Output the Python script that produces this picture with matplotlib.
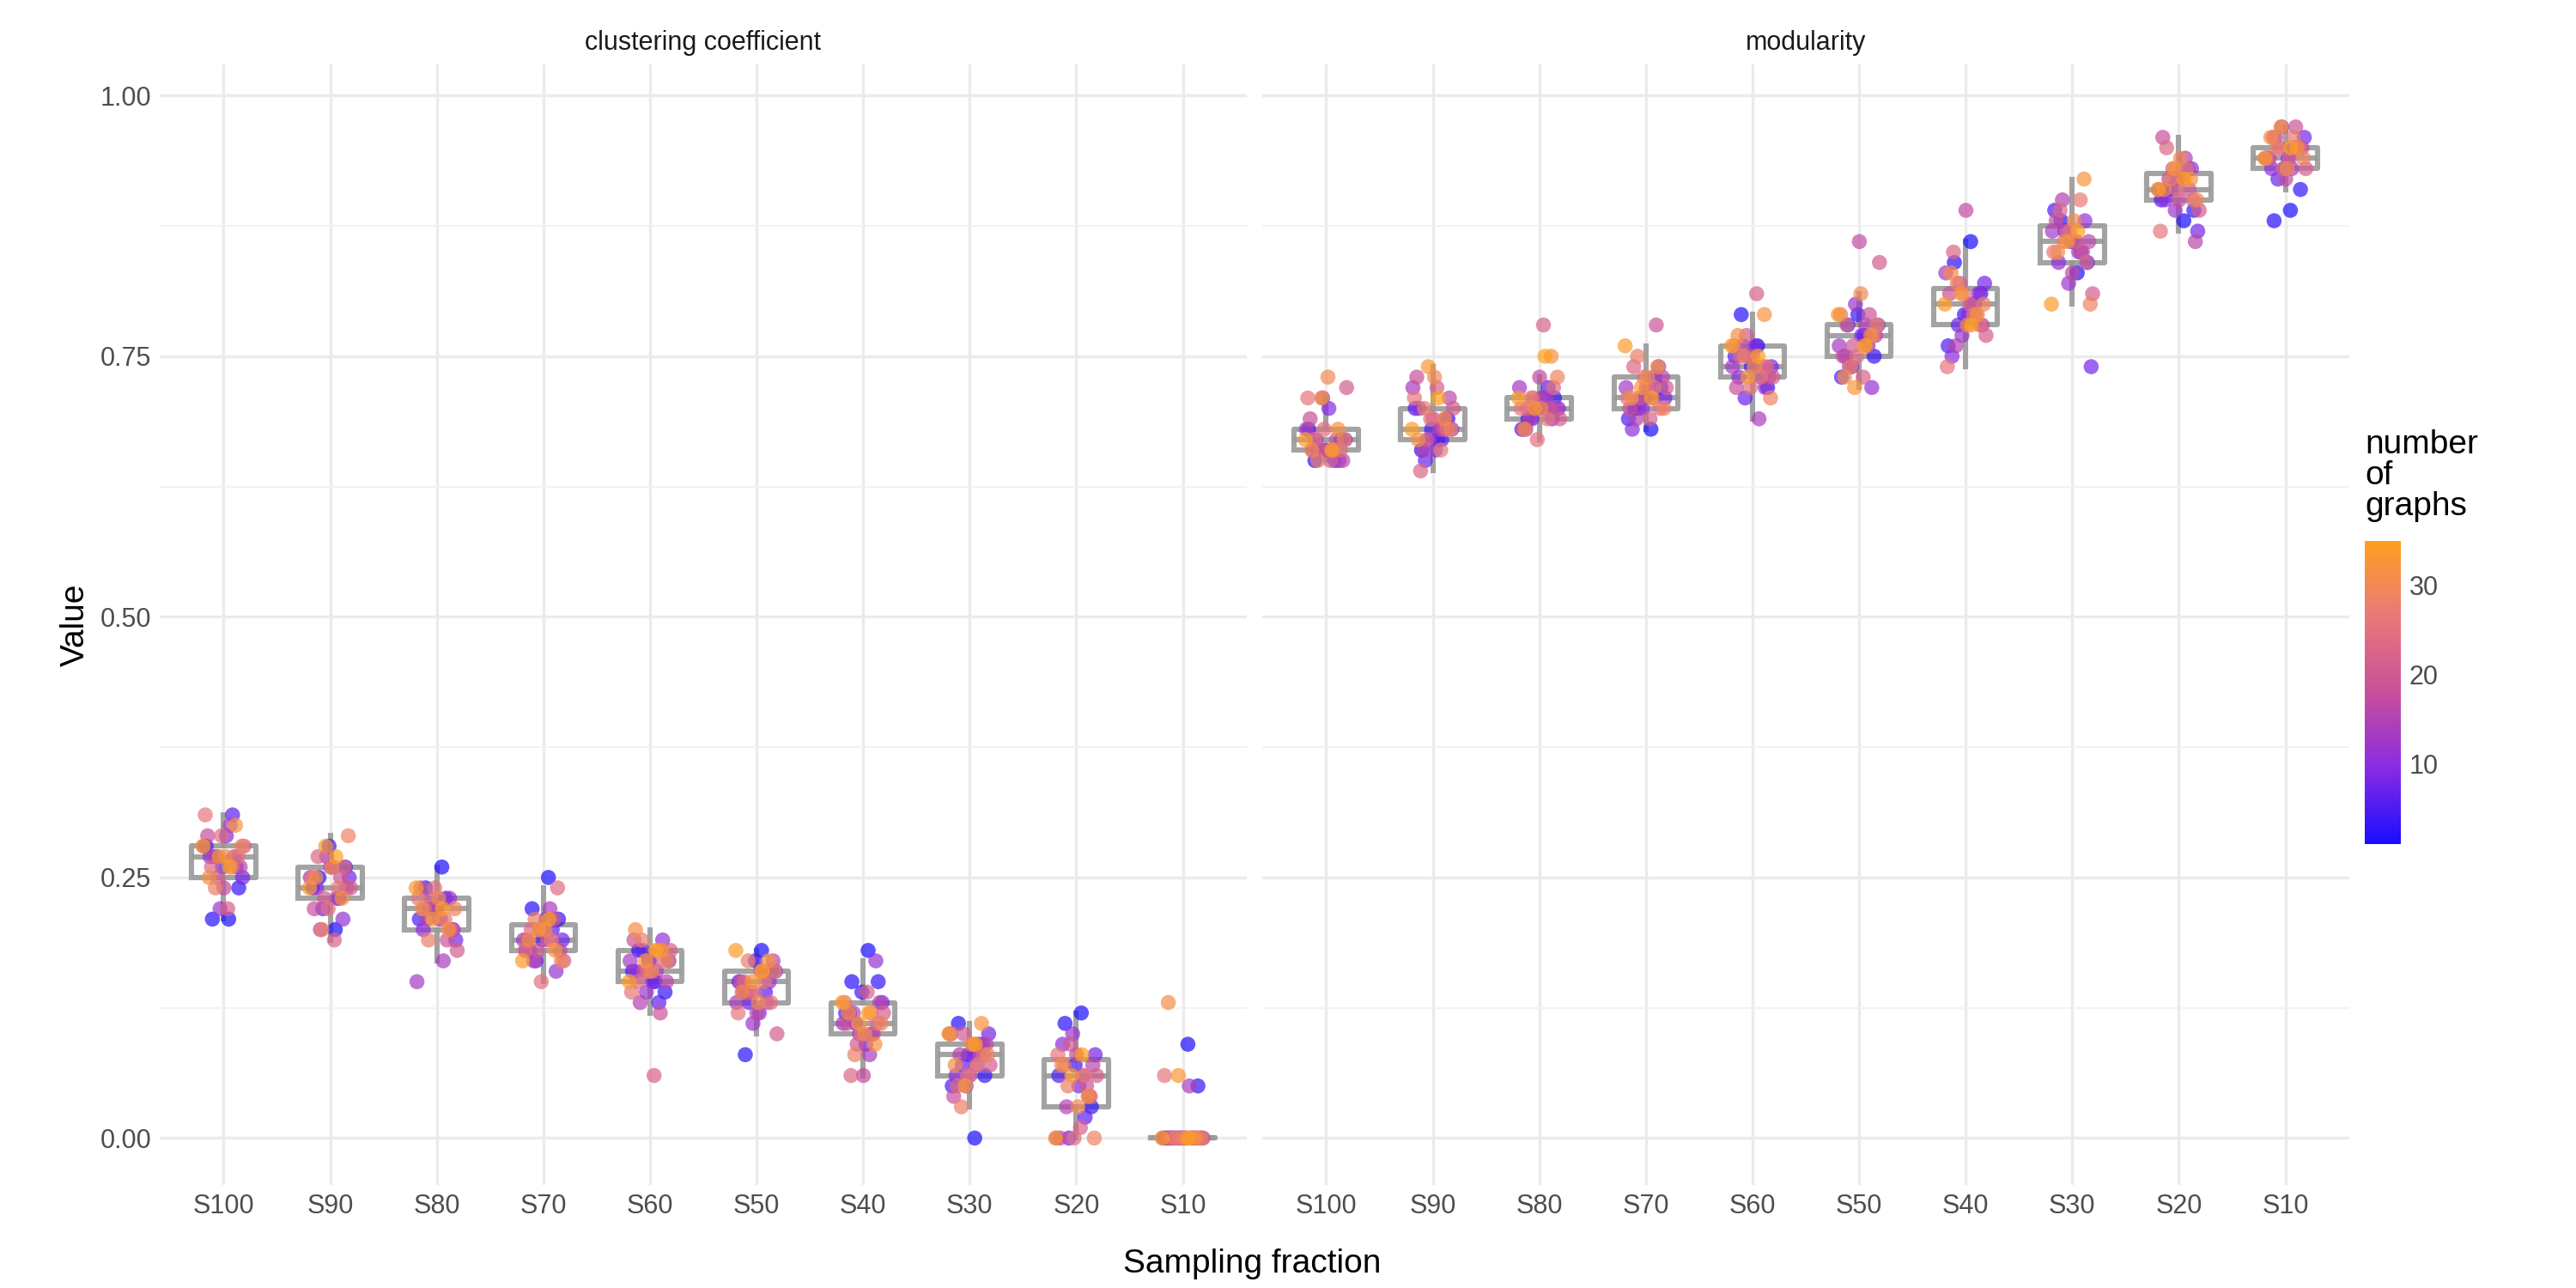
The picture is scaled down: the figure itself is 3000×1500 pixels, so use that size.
import numpy as np
import matplotlib.pyplot as plt
from matplotlib.colors import LinearSegmentedColormap, Normalize

plt.rcParams['font.family'] = ['Liberation Sans', 'DejaVu Sans']

fractions = ["S100","S90","S80","S70","S60","S50","S40","S30","S20","S10"]
graph_ids = list(range(1, 36))

cc_S100 = [.21,.21,.24,.26,.28,.31,.27,.25,.29,.27,.26,.22,.28,.30,.27,.26,.24,.29,.27,.25,.28,.22,.26,.27,.29,.31,.26,.24,.28,.27,.25,.30,.27,.28,.26]
cc_S90 = [.20,.25,.26,.28,.24,.23,.22,.25,.26,.24,.21,.27,.25,.23,.20,.24,.26,.22,.25,.23,.24,.19,.27,.26,.22,.25,.24,.20,.29,.26,.25,.23,.28,.24,.27]
cc_S80 = [.26,.24,.20,.22,.21,.23,.22,.19,.21,.20,.23,.22,.15,.17,.21,.20,.22,.24,.19,.23,.18,.21,.22,.20,.24,.23,.21,.19,.22,.23,.22,.20,.21,.24,.22]
cc_S70 = [.25,.22,.21,.19,.18,.20,.17,.19,.21,.18,.16,.20,.19,.22,.17,.18,.20,.19,.21,.18,.17,.19,.20,.24,.15,.18,.19,.21,.17,.20,.19,.18,.20,.17,.21]
cc_S60 = [.15,.18,.14,.17,.16,.13,.18,.17,.15,.16,.19,.14,.17,.16,.13,.15,.17,.19,.12,.16,.18,.06,.15,.17,.16,.14,.18,.19,.17,.16,.20,.18,.17,.15,.18]
cc_S50 = [.18,.08,.16,.17,.15,.14,.13,.16,.12,.14,.15,.11,.13,.16,.14,.17,.12,.15,.13,.14,.10,.16,.15,.13,.14,.12,.15,.17,.16,.13,.14,.17,.15,.18,.16]
cc_S40 = [.18,.15,.15,.14,.12,.10,.11,.13,.09,.12,.17,.10,.11,.08,.12,.13,.06,.11,.10,.09,.12,.14,.06,.11,.10,.13,.12,.08,.11,.10,.12,.09,.11,.13,.12]
cc_S30 = [.00,.11,.06,.08,.05,.09,.07,.10,.08,.06,.09,.05,.10,.07,.08,.09,.06,.04,.08,.10,.07,.09,.05,.08,.06,.10,.07,.03,.08,.09,.07,.11,.05,.10,.09]
cc_S20 = [.12,.11,.03,.07,.06,.02,.00,.08,.05,.09,.04,.10,.00,.06,.03,.07,.08,.00,.05,.09,.06,.01,.07,.04,.00,.08,.06,.05,.00,.03,.07,.04,.06,.00,.08]
cc_S10 = [.09,.00,.05,.00,.00,.00,.00,.00,.00,.00,.00,.00,.00,.05,.00,.00,.00,.00,.00,.00,.00,.00,.00,.00,.00,.06,.00,.00,.00,.00,.13,.00,.06,.00,.00]

mod_S100 = [.66,.65,.67,.66,.68,.65,.66,.67,.70,.66,.65,.71,.68,.66,.67,.65,.66,.69,.67,.66,.72,.65,.67,.66,.68,.71,.66,.65,.67,.73,.66,.68,.71,.67,.66]
mod_S90 = [.67,.66,.69,.68,.70,.67,.65,.68,.66,.70,.69,.67,.72,.68,.66,.71,.69,.73,.68,.67,.70,.72,.64,.68,.69,.71,.66,.70,.68,.73,.67,.69,.74,.68,.71]
mod_S80 = [.70,.69,.71,.70,.68,.72,.69,.70,.71,.68,.69,.70,.72,.71,.69,.70,.73,.68,.70,.71,.69,.78,.70,.72,.67,.70,.69,.71,.73,.70,.68,.75,.70,.71,.75]
mod_S70 = [.68,.70,.72,.71,.69,.73,.70,.71,.72,.68,.74,.70,.72,.71,.69,.73,.72,.70,.78,.71,.72,.69,.74,.70,.73,.71,.72,.75,.70,.73,.71,.74,.72,.76,.71]
mod_S60 = [.76,.79,.72,.74,.75,.73,.71,.74,.76,.73,.72,.75,.74,.69,.76,.73,.75,.72,.74,.77,.73,.81,.75,.74,.72,.76,.73,.75,.71,.74,.77,.79,.73,.76,.75]
mod_S50 = [.77,.78,.75,.79,.73,.76,.74,.78,.77,.75,.72,.80,.76,.78,.74,.77,.86,.75,.79,.76,.84,.73,.78,.77,.75,.79,.76,.74,.78,.81,.73,.77,.72,.79,.76]
mod_S40 = [.86,.84,.81,.79,.76,.80,.78,.82,.79,.75,.81,.77,.83,.80,.76,.78,.89,.81,.79,.82,.77,.80,.85,.78,.81,.74,.79,.82,.80,.78,.83,.79,.81,.80,.78]
mod_S30 = [.83,.88,.84,.86,.89,.85,.87,.74,.86,.84,.88,.82,.87,.85,.90,.86,.83,.88,.85,.87,.81,.86,.89,.84,.87,.85,.90,.86,.80,.88,.85,.92,.86,.80,.87]
mod_S20 = [.88,.91,.89,.92,.90,.93,.91,.87,.92,.90,.93,.89,.91,.94,.92,.86,.90,.96,.91,.93,.89,.92,.95,.90,.91,.87,.93,.92,.90,.94,.91,.92,.93,.91,.92]
mod_S10 = [.89,.88,.91,.93,.94,.95,.92,.96,.94,.93,.95,.97,.94,.93,.96,.95,.92,.94,.97,.95,.93,.94,.96,.95,.93,.94,.96,.95,.94,.93,.96,.95,.97,.94,.95]

cc = [cc_S100,cc_S90,cc_S80,cc_S70,cc_S60,cc_S50,cc_S40,cc_S30,cc_S20,cc_S10]
mod = [mod_S100,mod_S90,mod_S80,mod_S70,mod_S60,mod_S50,mod_S40,mod_S30,mod_S20,mod_S10]
panels = [("clustering coefficient", cc), ("modularity", mod)]

cmap = LinearSegmentedColormap.from_list("g", ["#1a0dff", "#8a2be2", "#c8509a", "#e8787a", "#ffa020"])
norm = Normalize(1, 35)

fig = plt.figure(figsize=(15, 7.5), dpi=200)
axes = [fig.add_axes([0.062, 0.08, 0.422, 0.87]), fig.add_axes([0.49, 0.08, 0.422, 0.87])]
ids = np.array(graph_ids)
jit = ((ids * 0.6180339) % 1 - 0.5) * 0.4
for ax, (title, data) in zip(axes, panels):
    ax.set_facecolor("white")
    for s in ax.spines.values():
        s.set_visible(False)
    ax.boxplot(data, positions=range(1, 11), widths=0.6, showfliers=False,
               boxprops=dict(color="#999999", lw=2.2, alpha=0.9), whiskerprops=dict(color="#999999", lw=2.2, alpha=0.9),
               medianprops=dict(color="#999999", lw=2.2, alpha=0.9), capprops=dict(visible=False),
               patch_artist=False, zorder=2)
    for i, vals in enumerate(data):
        ax.scatter(i + 1 + jit, vals, c=ids, cmap=cmap, norm=norm, s=40, alpha=0.7,
                   edgecolors="none", zorder=3)
    ax.set_ylim(-0.045, 1.03)
    ax.set_xlim(0.4, 10.6)
    ax.set_yticks([0, .25, .5, .75, 1.0])
    ax.set_yticks([.125, .375, .625, .875], minor=True)
    ax.set_xticks(range(1, 11))
    ax.set_xticklabels(fractions)
    ax.grid(True, which="major", color="#ebebeb", lw=1.2)
    ax.grid(True, which="minor", axis="y", color="#f2f2f2", lw=0.7)
    ax.set_axisbelow(True)
    ax.tick_params(length=0, labelsize=11, colors="#4d4d4d", which="both")
    ax.set_title(title, fontsize=11, color="#1a1a1a")
axes[0].set_yticklabels(["0.00", "0.25", "0.50", "0.75", "1.00"])
axes[1].set_yticklabels([])
axes[0].set_ylabel("Value", fontsize=14)
fig.text(0.486, 0.012, "Sampling fraction", ha="center", fontsize=14)

cax = fig.add_axes([0.918, 0.345, 0.014, 0.235])
sm = plt.cm.ScalarMappable(norm=norm, cmap=cmap)
cb = fig.colorbar(sm, cax=cax, ticks=[10, 20, 30])
cb.outline.set_visible(False)
cb.ax.tick_params(length=0, labelsize=11, colors="#4d4d4d")
fig.text(0.918, 0.595, "number\nof\ngraphs", fontsize=14, ha="left", va="bottom", linespacing=1.0)
fig.savefig("out.png", dpi=200, facecolor="white")
